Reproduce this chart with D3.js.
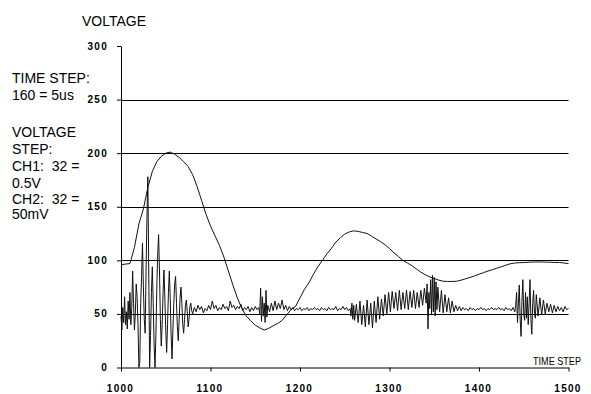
<!DOCTYPE html>
<html>
<head>
<meta charset="utf-8">
<script src="https://cdn.jsdelivr.net/npm/d3@7"></script>
<style>
  body { margin: 0; background: #fff; }
  svg { display: block; font-family: "Liberation Sans", Arial, sans-serif; }
</style>
</head>
<body>
<div id="chart"></div>
<script>
// tick values
const yTicks = [0, 50, 100, 150, 200, 250, 300];
const xTicks = [1000, 1100, 1200, 1300, 1400, 1500];
const gridValues = [50, 100, 150, 200, 250];

// CH1, one value every 5 time steps (1000..1500)
const ch1Start = 1000, ch1Step = 5;
const ch1Values = [
  96, 96.5, 97, 112, 134, 148, 168, 183, 192, 197,
  200, 201, 199, 196, 192, 187.5, 180, 169, 156, 143,
  132, 123, 114, 103, 90, 77, 65, 55, 48, 43.5,
  39.5, 37, 35, 36.5, 39, 41, 44, 49, 54, 57,
  65, 73, 79, 87, 94, 100, 106, 111, 117, 121,
  124.5, 126.5, 127.5, 127, 126, 125, 122.5, 120, 117.5, 114.5,
  111, 107, 103.5, 100, 97.5, 95, 92, 89, 86.5, 84.5,
  83, 81.5, 80.5, 80.3, 80.3, 80.5, 81.5, 82.8, 84, 85.5,
  87, 88.5, 90, 91.3, 92.7, 94, 95.5, 96.8, 97.5, 97.8,
  98, 98.2, 98.4, 98.5, 98.5, 98.3, 98.2, 98, 98, 97.5,
  97
];

// CH2 (time step, value)
const ch2Steps = [
  1000, 1001, 1002, 1003, 1004, 1005, 1006, 1007, 1008, 1009,
  1010, 1011, 1012, 1013, 1014, 1015, 1016, 1017, 1018, 1019,
  1020, 1021, 1022, 1023, 1024, 1025, 1026, 1027, 1028, 1029,
  1030, 1031, 1032, 1033, 1034, 1035, 1036, 1037, 1038, 1039,
  1040, 1041, 1042, 1043, 1044, 1045, 1046, 1047, 1048, 1049,
  1050, 1051, 1052, 1053, 1054, 1055, 1056, 1057, 1058, 1059,
  1060, 1061, 1062, 1063, 1064, 1065, 1066, 1067, 1068, 1069,
  1070, 1071, 1072, 1073, 1074, 1075, 1076, 1077, 1078, 1079,
  1080, 1082, 1084, 1086, 1088, 1090, 1092, 1094, 1096, 1098,
  1100, 1102, 1104, 1106, 1108, 1110, 1112, 1114, 1116, 1118,
  1120, 1122, 1124, 1126, 1128, 1130, 1132, 1134, 1136, 1138,
  1140, 1142, 1144, 1146, 1148, 1150, 1152, 1154, 1155, 1156,
  1157, 1158, 1159, 1160, 1161, 1162, 1163, 1164, 1166, 1168,
  1170, 1172, 1174, 1176, 1178, 1180, 1182, 1184, 1186, 1188,
  1190, 1192, 1194, 1196, 1198, 1200, 1202, 1204, 1206, 1208,
  1210, 1212, 1214, 1216, 1218, 1220, 1222, 1224, 1226, 1228,
  1230, 1232, 1234, 1236, 1238, 1240, 1242, 1244, 1246, 1248,
  1250, 1252, 1254, 1256, 1257, 1258, 1259, 1260, 1261, 1263,
  1265, 1267, 1269, 1271, 1273, 1275, 1277, 1279, 1281, 1283,
  1285, 1287, 1289, 1291, 1293, 1295, 1297, 1299, 1301, 1303,
  1305, 1307, 1309, 1311, 1313, 1315, 1317, 1319, 1321, 1323,
  1325, 1327, 1329, 1331, 1333, 1335, 1337, 1339, 1341, 1342,
  1343, 1344, 1345, 1346, 1347, 1348, 1349, 1350, 1351, 1352,
  1353, 1354, 1356, 1358, 1360, 1362, 1364, 1366, 1368, 1370,
  1372, 1374, 1376, 1378, 1380, 1382, 1384, 1386, 1388, 1390,
  1392, 1394, 1396, 1398, 1400, 1402, 1404, 1406, 1408, 1410,
  1412, 1414, 1416, 1418, 1420, 1422, 1424, 1426, 1428, 1430,
  1432, 1434, 1436, 1438, 1440, 1441, 1442, 1443, 1444, 1445,
  1446, 1447, 1448, 1449, 1450, 1451, 1452, 1453, 1454, 1455,
  1456, 1457, 1458, 1459, 1460, 1461, 1462, 1463, 1464, 1466,
  1468, 1470, 1472, 1474, 1476, 1478, 1480, 1482, 1484, 1486,
  1488, 1490, 1492, 1494, 1496, 1498, 1500
];
const ch2Values = [
  48, 35, 56, 42, 66, 40, 52, 36, 62, 45,
  70, 40, 55, 90, 60, 35, 50, 78, 66, 40,
  0, 5, 60, 85, 116, 75, 45, 32, 90, 140,
  178, 90, 0, 30, 70, 94, 60, 20, 0, 30,
  75, 105, 124, 90, 45, 20, 40, 70, 91, 65,
  35, 14, 40, 70, 90, 65, 30, 8, 35, 60,
  78, 85, 60, 38, 25, 45, 65, 75, 60, 40,
  32, 45, 58, 63, 52, 38, 45, 57, 60, 53,
  50, 56, 52, 58, 54, 57, 51, 55, 53, 58,
  54, 62, 55, 58, 53, 56, 54, 59, 55, 57,
  53, 62, 56, 58, 54, 57, 55, 59, 53, 56,
  54, 57, 52, 56, 53, 57, 54, 56, 50, 74,
  43, 66, 48, 60, 42, 72, 47, 58, 52, 60,
  53, 62, 54, 60, 55, 63, 54, 58, 53, 57,
  54, 56, 53, 55, 54, 56, 53, 55, 54, 56,
  53, 55, 54, 56, 54, 55, 53, 56, 54, 55,
  53, 56, 54, 55, 54, 57, 53, 55, 54, 57,
  54, 56, 53, 55, 48, 60, 45, 58, 44, 59,
  42, 62, 40, 58, 38, 63, 40, 60, 37, 62,
  42, 66, 45, 64, 48, 68, 50, 70, 52, 71,
  55, 70, 53, 72, 54, 70, 55, 72, 54, 71,
  56, 72, 55, 70, 56, 72, 58, 74, 60, 78,
  36, 70, 55, 82, 50, 86, 52, 84, 48, 80,
  54, 75, 52, 72, 51, 68, 52, 65, 51, 62,
  52, 58, 53, 57, 53, 56, 54, 55, 53, 56,
  54, 55, 53, 55, 54, 56, 54, 55, 53, 55,
  54, 56, 54, 55, 54, 56, 54, 55, 53, 56,
  54, 55, 53, 56, 52, 58, 70, 42, 60, 77,
  45, 29, 62, 82, 50, 44, 70, 46, 66, 40,
  60, 82, 45, 31, 60, 72, 50, 46, 68, 48,
  65, 49, 63, 50, 60, 52, 59, 51, 58, 52,
  57, 53, 56, 52, 57, 54, 55
];

const width = 591, height = 394;
const x = d3.scaleLinear().domain([1000, 1500]).range([121, 568.5]);
const y = d3.scaleLinear().domain([0, 300]).range([367.5, 46]);

const svg = d3.select("#chart").append("svg")
  .attr("width", width)
  .attr("height", height);

// horizontal grid lines
svg.append("g")
  .selectAll("line")
  .data(gridValues)
  .join("line")
    .attr("x1", x(1000)).attr("x2", x(1500))
    .attr("y1", d => Math.round(y(d)) + 0.5)
    .attr("y2", d => Math.round(y(d)) + 0.5)
    .attr("stroke", "#000")
    .attr("stroke-width", 1);

// axes
const yAxis = svg.append("g")
  .attr("transform", `translate(${x(1000)},0)`)
  .call(d3.axisLeft(y).tickValues(yTicks).tickSize(4).tickSizeOuter(0).tickPadding(9));
const xAxis = svg.append("g")
  .attr("transform", `translate(0,${y(0)})`)
  .call(d3.axisBottom(x).tickValues(xTicks).tickFormat(d3.format("d"))
    .tickSize(4).tickSizeOuter(0).tickPadding(13));

[yAxis, xAxis].forEach(g => {
  g.selectAll("path, line").attr("stroke", "#000");
  g.selectAll("text")
    .attr("fill", "#000")
    .style("font-family", "'Liberation Sans', Arial, sans-serif")
    .style("font-size", "10px")
    .style("font-weight", "bold")
    .style("letter-spacing", "1.3px");
});
yAxis.selectAll("text").attr("dy", "0.3em");
xAxis.selectAll("text").attr("dx", "-1");

// traces
const line = d3.line().x(d => x(d[0])).y(d => y(d[1]));
const ch1 = ch1Values.map((v, i) => [ch1Start + i * ch1Step, v]);
const ch2 = ch2Steps.map((t, i) => [t, ch2Values[i]]);

svg.append("path")
  .datum(ch2)
  .attr("fill", "none")
  .attr("stroke", "#111")
  .attr("stroke-width", 1)
  .attr("d", line);

svg.append("path")
  .datum(ch1)
  .attr("fill", "none")
  .attr("stroke", "#111")
  .attr("stroke-width", 1)
  .attr("d", line);

// titles and notes
svg.append("text")
  .attr("x", 82).attr("y", 26)
  .style("font-size", "14px")
  .text("VOLTAGE");

svg.append("text")
  .attr("x", 533).attr("y", 365)
  .attr("textLength", 48)
  .attr("lengthAdjust", "spacingAndGlyphs")
  .style("font-size", "11px")
  .text("TIME STEP");

const notes = [
  ["TIME STEP:", 83],
  ["160 = 5us", 100],
  ["VOLTAGE", 137],
  ["STEP:", 154],
  ["CH1:  32 =", 171],
  ["0.5V", 188],
  ["CH2:  32 =", 204],
  ["50mV", 219]
];
svg.append("g")
  .selectAll("text")
  .data(notes)
  .join("text")
    .attr("x", 12)
    .attr("y", d => d[1])
    .style("font-size", "14px")
    .style("white-space", "pre")
    .text(d => d[0]);
</script>
</body>
</html>
